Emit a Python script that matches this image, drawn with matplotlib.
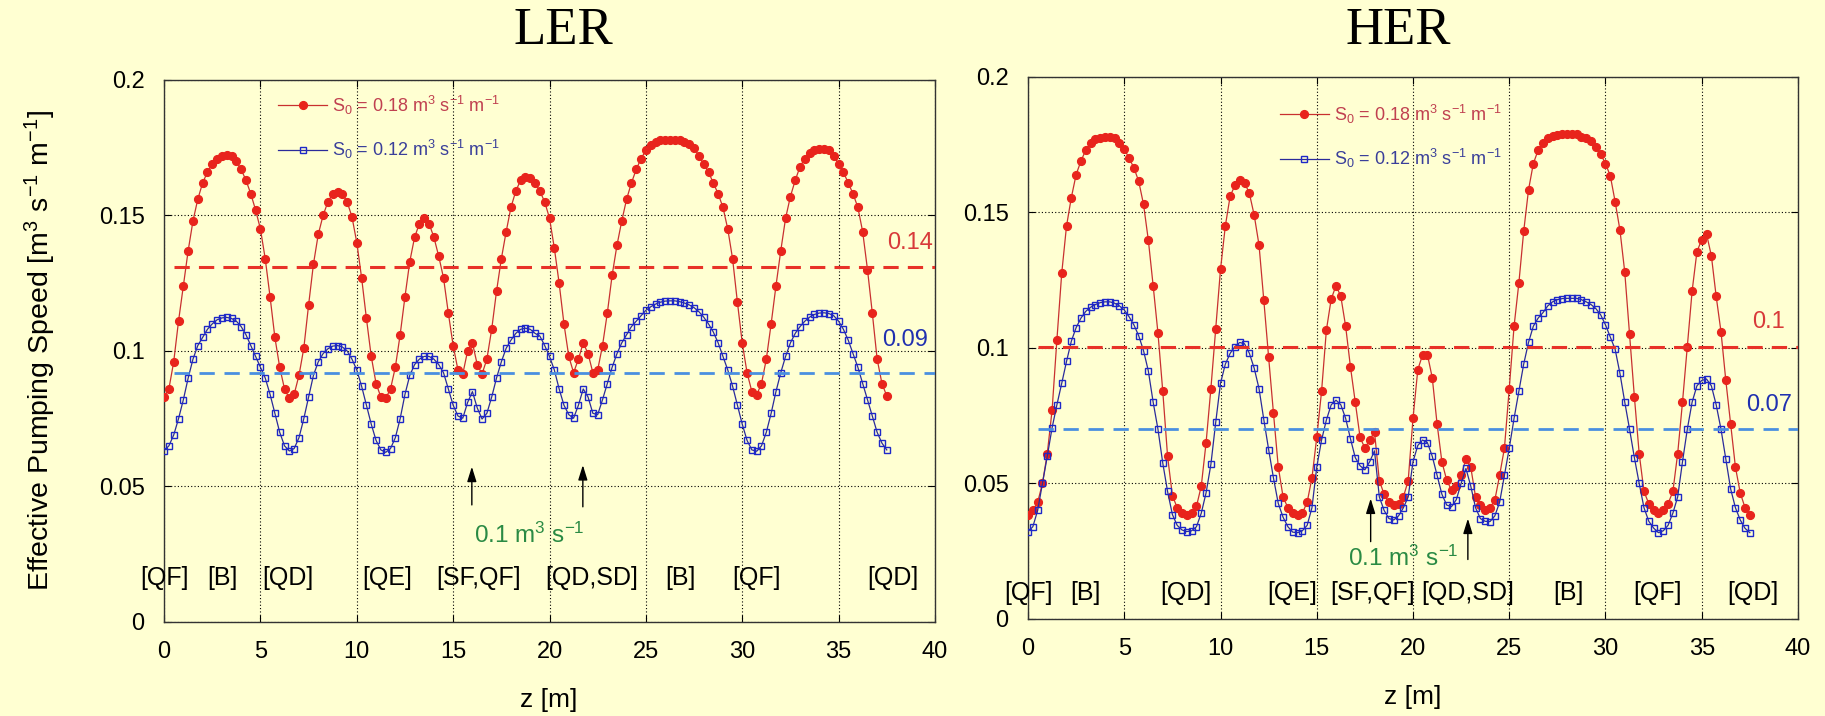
import numpy as np
import matplotlib
matplotlib.use('Agg')
import matplotlib.pyplot as plt

plt.rcParams['font.family'] = ['Liberation Sans', 'DejaVu Sans']
plt.rcParams['mathtext.fontset'] = 'custom'
plt.rcParams['mathtext.rm'] = 'Liberation Sans'
plt.rcParams['mathtext.it'] = 'Liberation Sans:italic'
plt.rcParams['mathtext.default'] = 'rm'

# ---------------- data ----------------
z = np.arange(151) * 0.25   # sampling positions along the cell [m]

ler_s018 = [
    0.083, 0.086, 0.096, 0.111,
    0.124, 0.137, 0.148, 0.156,
    0.162, 0.166, 0.169, 0.171,
    0.172, 0.1723, 0.172, 0.170,
    0.167, 0.163, 0.158, 0.152,
    0.145, 0.134, 0.120, 0.105,
    0.094, 0.086, 0.0825, 0.084,
    0.091, 0.101, 0.117, 0.132,
    0.143, 0.150, 0.155, 0.158,
    0.1588, 0.158, 0.155, 0.1495,
    0.140, 0.127, 0.112, 0.098,
    0.088, 0.083, 0.0825, 0.086,
    0.094, 0.106, 0.120, 0.133,
    0.142, 0.147, 0.149, 0.147,
    0.142, 0.135, 0.127, 0.114,
    0.102, 0.093, 0.0915, 0.100,
    0.103, 0.095, 0.0915, 0.097,
    0.108, 0.122, 0.134, 0.144,
    0.153, 0.159, 0.163, 0.1643,
    0.164, 0.162, 0.159, 0.155,
    0.149, 0.138, 0.125, 0.110,
    0.098, 0.092, 0.097, 0.103,
    0.099, 0.092, 0.093, 0.102,
    0.114, 0.128, 0.139, 0.148,
    0.156, 0.162, 0.167, 0.171,
    0.174, 0.176, 0.177, 0.1778,
    0.178, 0.178, 0.178, 0.1778,
    0.177, 0.1765, 0.175, 0.172,
    0.169, 0.166, 0.162, 0.158,
    0.153, 0.145, 0.134, 0.118,
    0.103, 0.092, 0.085, 0.0838,
    0.088, 0.097, 0.110, 0.124,
    0.137, 0.149, 0.157, 0.163,
    0.168, 0.171, 0.173, 0.174,
    0.1744, 0.1744, 0.174, 0.172,
    0.169, 0.166, 0.162, 0.158,
    0.153, 0.144, 0.130, 0.114,
    0.097, 0.088, 0.0834]

ler_s012 = [
    0.0632, 0.065, 0.069, 0.075,
    0.082, 0.090, 0.097, 0.102,
    0.105, 0.108, 0.110, 0.1115,
    0.1122, 0.1124, 0.112, 0.111,
    0.109, 0.106, 0.102, 0.098,
    0.094, 0.090, 0.084, 0.077,
    0.070, 0.065, 0.0631, 0.064,
    0.068, 0.075, 0.083, 0.091,
    0.096, 0.099, 0.1008, 0.1018,
    0.102, 0.1015, 0.100, 0.097,
    0.093, 0.087, 0.080, 0.073,
    0.067, 0.0635, 0.0626, 0.064,
    0.068, 0.075, 0.084, 0.091,
    0.095, 0.097, 0.098, 0.098,
    0.097, 0.095, 0.092, 0.086,
    0.080, 0.076, 0.0752, 0.081,
    0.085, 0.079, 0.0749, 0.077,
    0.083, 0.090, 0.096, 0.101,
    0.104, 0.1065, 0.108, 0.1084,
    0.108, 0.1065, 0.1055, 0.102,
    0.098, 0.093, 0.086, 0.080,
    0.0765, 0.0752, 0.080, 0.086,
    0.083, 0.077, 0.0765, 0.082,
    0.088, 0.094, 0.099, 0.103,
    0.106, 0.109, 0.111, 0.113,
    0.115, 0.1163, 0.1173, 0.118,
    0.1184, 0.1185, 0.1185, 0.1182,
    0.1177, 0.117, 0.116, 0.1145,
    0.1125, 0.110, 0.107, 0.103,
    0.098, 0.093, 0.087, 0.080,
    0.073, 0.067, 0.0635, 0.063,
    0.065, 0.070, 0.077, 0.085,
    0.092, 0.098, 0.103, 0.1065,
    0.109, 0.111, 0.1125, 0.1135,
    0.114, 0.1141, 0.1138, 0.113,
    0.111, 0.108, 0.104, 0.099,
    0.094, 0.088, 0.082, 0.076,
    0.070, 0.066, 0.0635]

her_s018 = [
    0.0383, 0.040, 0.043, 0.050,
    0.061, 0.077, 0.103, 0.1275,
    0.145, 0.1555, 0.164, 0.169,
    0.173, 0.1755, 0.177, 0.1775,
    0.178, 0.178, 0.1775, 0.1757,
    0.1735, 0.170, 0.1665, 0.1615,
    0.153, 0.1398, 0.123, 0.1055,
    0.084, 0.060, 0.0455, 0.041,
    0.039, 0.0383, 0.039, 0.0415,
    0.049, 0.065, 0.085, 0.107,
    0.129, 0.145, 0.156, 0.160,
    0.1618, 0.161, 0.157, 0.149,
    0.138, 0.1175, 0.0965, 0.076,
    0.0561, 0.045, 0.041, 0.039,
    0.0383, 0.039, 0.043, 0.052,
    0.067, 0.084, 0.1066, 0.118,
    0.123, 0.119, 0.108, 0.093,
    0.080, 0.067, 0.063, 0.066,
    0.069, 0.051, 0.046, 0.043,
    0.042, 0.0425, 0.045, 0.051,
    0.074, 0.092, 0.0975, 0.0975,
    0.089, 0.072, 0.058, 0.0512,
    0.0475, 0.049, 0.053, 0.059,
    0.056, 0.045, 0.042, 0.040,
    0.041, 0.0438, 0.053, 0.063,
    0.085, 0.108, 0.124, 0.143,
    0.1583, 0.168, 0.173, 0.1755,
    0.1775, 0.1783, 0.1787, 0.179,
    0.179, 0.179, 0.1788, 0.178,
    0.1775, 0.1762, 0.174, 0.1715,
    0.168, 0.1635, 0.154, 0.1435,
    0.128, 0.105, 0.082, 0.061,
    0.047, 0.0425, 0.040, 0.0389,
    0.040, 0.0425, 0.047, 0.061,
    0.080, 0.1005, 0.121, 0.1355,
    0.140, 0.142, 0.134, 0.119,
    0.106, 0.088, 0.072, 0.056,
    0.0465, 0.041, 0.0385]

her_s012 = [
    0.0322, 0.034, 0.040, 0.050,
    0.060, 0.0705, 0.079, 0.0869,
    0.095, 0.1025, 0.1075, 0.111,
    0.1135, 0.115, 0.116, 0.1167,
    0.117, 0.117, 0.1165, 0.1155,
    0.114, 0.1115, 0.1085, 0.1045,
    0.099, 0.0915, 0.080, 0.070,
    0.0575, 0.047, 0.0385, 0.0345,
    0.0328, 0.0322, 0.0325, 0.034,
    0.039, 0.0465, 0.057, 0.0725,
    0.087, 0.094, 0.098, 0.1005,
    0.102, 0.1015, 0.098, 0.0925,
    0.085, 0.0735, 0.0625, 0.052,
    0.0426, 0.0375, 0.034, 0.032,
    0.0318, 0.0325, 0.0345, 0.041,
    0.056, 0.066, 0.0734, 0.079,
    0.0807, 0.079, 0.074, 0.0665,
    0.0595, 0.0565, 0.055, 0.058,
    0.062, 0.045, 0.040, 0.037,
    0.0365, 0.038, 0.041, 0.045,
    0.058, 0.064, 0.066, 0.065,
    0.060, 0.053, 0.046, 0.042,
    0.0414, 0.044, 0.050, 0.0555,
    0.049, 0.041, 0.037, 0.036,
    0.0359, 0.038, 0.043, 0.053,
    0.063, 0.074, 0.084, 0.094,
    0.102, 0.108, 0.111, 0.113,
    0.1155, 0.117, 0.1178, 0.1182,
    0.1183, 0.1183, 0.1183, 0.1178,
    0.117, 0.116, 0.1145, 0.1122,
    0.1085, 0.104, 0.0995, 0.0906,
    0.080, 0.070, 0.0595, 0.050,
    0.041, 0.036, 0.0335, 0.0318,
    0.0325, 0.0345, 0.039, 0.045,
    0.058, 0.070, 0.080, 0.086,
    0.088, 0.0885, 0.086, 0.079,
    0.070, 0.059, 0.048, 0.041,
    0.0365, 0.0334, 0.0318]

series_labels = [r'S$_0$ = 0.18 m$^3$ s$^{-1}$ m$^{-1}$',
                 r'S$_0$ = 0.12 m$^3$ s$^{-1}$ m$^{-1}$']

# average levels (dashed lines) and their labels
ler_avg = [0.131, 0.0919]
ler_avg_labels = ['0.14', '0.09']
her_avg = [0.1005, 0.0700]
her_avg_labels = ['0.1', '0.07']

# magnet labels
ler_mag = ['[QF]', '[B]', '[QD]', '[QE]', '[SF,QF]', '[QD,SD]', '[B]', '[QF]', '[QD]']
ler_mag_z = [0.0, 3.05, 6.4, 11.6, 16.3, 22.2, 26.8, 30.76, 37.8]
her_mag = ['[QF]', '[B]', '[QD]', '[QE]', '[SF,QF]', '[QD,SD]', '[B]', '[QF]', '[QD]']
her_mag_z = [0.0, 2.96, 8.18, 13.7, 17.9, 22.86, 28.05, 32.7, 37.65]

# pump positions (arrows) labelled 0.1 m3/s
ler_pump_z = [15.97, 21.73]
her_pump_z = [17.8, 22.85]
pump_label = r'0.1 m$^3$ s$^{-1}$'

xticks = [0, 5, 10, 15, 20, 25, 30, 35, 40]
yticks = [0, 0.05, 0.1, 0.15, 0.2]
ytick_labels = ['0', '0.05', '0.1', '0.15', '0.2']

# ---------------- style ----------------
BG = '#FFFFD2'
RED_MK = '#E8241C'
RED_LN = '#C83030'
BLUE_MK = '#1E28C8'
BLUE_LN = '#2A2A9A'
RED_DASH = '#E83228'
BLUE_DASH = '#4A8FE0'
RED_TXT = '#C04050'
BLUE_TXT = '#3A3F9A'
GREEN = '#2A8A44'

fig = plt.figure(figsize=(18.25, 7.16), dpi=100, facecolor=BG)
ax1 = fig.add_axes([0.0899, 0.1313, 0.4224, 0.757])
ax2 = fig.add_axes([0.5633, 0.1357, 0.4219, 0.7568])


def style(ax):
    ax.set_facecolor(BG)
    ax.set_xlim(0, 40)
    ax.set_ylim(0, 0.2)
    ax.set_xticks(xticks)
    ax.set_xticklabels([str(t) for t in xticks])
    ax.set_yticks(yticks)
    ax.set_yticklabels(ytick_labels)
    ax.grid(True, linestyle=(0, (1, 2)), color='black', linewidth=0.8)
    ax.set_axisbelow(True)
    ax.tick_params(direction='in', length=5, width=0.8, top=True, right=True,
                   labelsize=17, pad=14, colors='black')
    for s in ax.spines.values():
        s.set_color('#333333')
        s.set_linewidth(1.0)


def draw(ax, red, blue, avg, avg_labels, avg_lab_pos, mags, mag_z, mag_y,
         pumps, pump_tail, pump_head, pump_text_xy, leg_anchor):
    style(ax)
    ax.plot(z, red, '-', color=RED_LN, lw=0.9, marker='o', ms=5.6,
            mfc=RED_MK, mec=RED_MK, label=series_labels[0], zorder=3)
    ax.plot(z, blue, '-', color=BLUE_LN, lw=0.9, marker='s', ms=4.6,
            mfc='none', mec=BLUE_MK, mew=1.0, label=series_labels[1], zorder=4)
    ax.hlines(avg[0], 0.5, 40, colors=RED_DASH, lw=2.2,
              linestyles=[(0, (5, 3))], zorder=5)
    ax.hlines(avg[1], 0.5, 40, colors=BLUE_DASH, lw=2.0,
              linestyles=[(0, (5.5, 3.5))], zorder=5)
    cols = ['#D83A3A', '#2030B0']
    for lab, (x, y), c in zip(avg_labels, avg_lab_pos, cols):
        ax.text(x, y, lab, color=c, fontsize=17, ha='right', va='center', zorder=6)
    for lab, x in zip(mags, mag_z):
        ax.text(x, mag_y, lab, fontsize=18, ha='center', va='center', color='black')
    for x, t, h in zip(pumps, pump_tail, pump_head):
        ax.annotate('', xy=(x, h), xytext=(x, t),
                    arrowprops=dict(arrowstyle='-|>,head_length=0.9,head_width=0.28',
                                    color='black', lw=1.0, mutation_scale=10,
                                    shrinkA=0, shrinkB=0))
    ax.text(pump_text_xy[0], pump_text_xy[1], pump_label, color=GREEN,
            fontsize=17.5, ha='center', va='center')
    ax.legend(loc='upper left', bbox_to_anchor=leg_anchor, frameon=False,
              fontsize=13, handlelength=2.7, handletextpad=0.3, labelspacing=1.2,
              borderpad=0, borderaxespad=0, numpoints=1,
              labelcolor=[RED_TXT, BLUE_TXT])
    ax.set_xlabel('z [m]', fontsize=19)


draw(ax1, ler_s018, ler_s012, ler_avg, ler_avg_labels,
     [(39.9, 0.1398), (39.65, 0.104)], ler_mag, ler_mag_z, 0.0162,
     ler_pump_z, [0.0432, 0.0425], [0.0573, 0.0579], (18.94, 0.0320),
     (0.148, 0.975))
draw(ax2, her_s018, her_s012, her_avg, her_avg_labels,
     [(39.3, 0.1095), (39.7, 0.0789)], her_mag, her_mag_z, 0.0095,
     her_pump_z, [0.0285, 0.0219], [0.0444, 0.0370], (19.5, 0.0222),
     (0.327, 0.953))

ax1.set_ylabel(r'Effective Pumping Speed [m$^3$ s$^{-1}$ m$^{-1}$]', fontsize=20.5)
ax1.yaxis.set_label_coords(-0.160, 0.5)
ax1.yaxis.label.set_va('center')
for ax, y in ((ax1, -0.144), (ax2, -0.144)):
    ax.xaxis.set_label_coords(0.499, y)
    ax.xaxis.label.set_va('center')

fig.text(563 / 1825, 1 - 31 / 716, 'LER', family='Liberation Serif', fontsize=38,
         ha='center', va='center')
fig.text(1398 / 1825, 1 - 31 / 716, 'HER', family='Liberation Serif', fontsize=38,
         ha='center', va='center')

fig.savefig('out.png', dpi=100, facecolor=BG)
